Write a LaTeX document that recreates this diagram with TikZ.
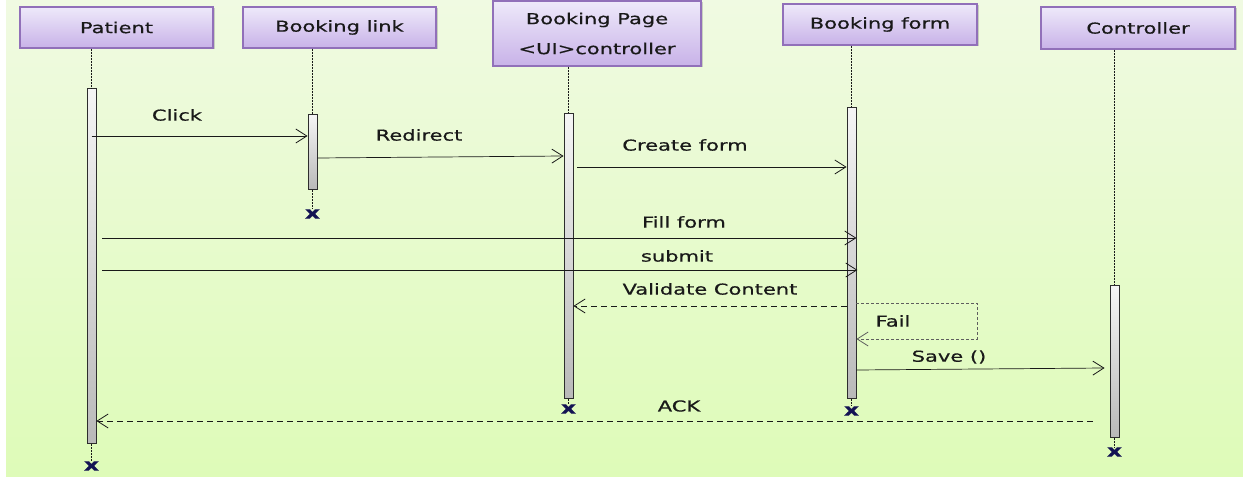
\documentclass[tikz,border=0pt]{standalone}
\usepackage{fontspec}
\setmainfont{DejaVu Sans}[FakeStretch=1.4, FakeBold=0.6]
\usetikzlibrary{arrows.meta,shadows,calc}
\definecolor{bgtop}{RGB}{240,250,226}
\definecolor{bgbot}{RGB}{222,251,184}
\definecolor{objtop}{RGB}{238,233,250}
\definecolor{objbot}{RGB}{200,178,232}
\definecolor{objline}{RGB}{145,112,185}
\definecolor{barline}{RGB}{45,45,45}
\definecolor{ink}{RGB}{25,25,25}
\begin{document}
\begin{tikzpicture}[x=1pt,y=-1pt,
  obj/.style={draw=objline, line width=1.1pt, top color=objtop, bottom color=objbot,
    minimum width=193pt, minimum height=41pt, inner sep=0pt, text=ink,
    font=\fontsize{15}{18}\selectfont,
    drop shadow={opacity=0.35, shadow xshift=1.5pt, shadow yshift=-1.5pt}},
  act/.style={draw=barline, line width=0.9pt, top color=white!92!gray, bottom color=gray!55,
    minimum width=9pt, inner sep=0pt, anchor=north},
  endmark/.style={font=\fontsize{17}{17}\selectfont\bfseries, text=ink!75!blue, inner sep=0pt},
  life/.style={draw=ink, line width=1pt, dash pattern=on 2pt off 1pt},
  msg/.style={draw=ink, line width=0.7pt, -{Straight Barb[length=11pt,width=14pt,line width=0.8pt]}},
  reply/.style={msg, dash pattern=on 6pt off 4pt},
  lbl/.style={font=\fontsize{15}{18}\selectfont, text=ink, inner sep=0pt}]

% page and background
\useasboundingbox (0,0) rectangle (1243,478);
\fill[white] (0,0) rectangle (1243,478);
\shade[top color=bgtop, bottom color=bgbot] (6,0) rectangle (1243,476);

% participants
\node[obj] (pat) at (116.5,27.5) {Patient};
\node[obj] (lnk) at (339.5,27.5) {Booking link};
\node[obj, minimum width=208pt, minimum height=65pt, align=center] (pag) at (597,33.5)
  {Booking Page\\[12pt]<UI>controller};
\node[obj, minimum width=194pt] (frm) at (880,24.5) {Booking form};
\node[obj, minimum width=194pt, minimum height=42pt] (ctl) at (1138,28) {Controller};

% activation bars
\node[act, minimum height=355pt] (pb) at (91.5,88) {};
\node[act, minimum height=75pt] (lb) at (312.5,114) {};
\node[act, minimum height=285pt] (gb) at (568.5,113) {};
\node[act, minimum height=291pt] (fb) at (851.5,107) {};
\node[act, minimum height=152pt] (cb) at (1114.5,285) {};

% destruction marks
\node[endmark] (px) at (91.5,466) {x};
\node[endmark] (lx) at (312.5,214) {x};
\node[endmark] (gx) at (568.5,409) {x};
\node[endmark] (fx) at (851.5,411) {x};
\node[endmark] (cx) at (1114.5,452) {x};

% lifelines
\foreach \o/\b/\x in {pat/pb/px, lnk/lb/lx, pag/gb/gx, frm/fb/fx, ctl/cb/cx}{
  \draw[life] (\b.north |- \o.south) -- (\b.north);
  \draw[life] (\b.south) -- (\x.north);
}

% message levels
\coordinate (yClick) at (0,136);
\coordinate (yRedirA) at (0,158);
\coordinate (yRedirB) at (0,156);
\coordinate (yCreate) at (0,167);
\coordinate (yFill) at (0,238);
\coordinate (ySubmit) at (0,270);
\coordinate (yValid) at (0,306);
\coordinate (yFailA) at (0,303);
\coordinate (yFailB) at (0,339);
\coordinate (ySaveA) at (0,370);
\coordinate (ySaveB) at (0,368);
\coordinate (yAck) at (0,421);
\coordinate (failTop) at (977,303);
\coordinate (failBot) at (977,339);

% messages
\draw[msg] (pb.center |- yClick) -- (lb.west |- yClick);
\draw[msg] (lb.east |- yRedirA) -- (gb.west |- yRedirB);
\draw[msg] ([xshift=4pt]gb.east |- yCreate) -- (fb.west |- yCreate);
\draw[msg] ([xshift=6pt]pb.east |- yFill) -- (fb.east |- yFill);
\draw[msg] ([xshift=6pt]pb.east |- ySubmit) -- ([xshift=1pt]fb.east |- ySubmit);
\draw[reply] (fb.west |- yValid) -- (gb.east |- yValid);
\draw[msg, draw=ink!70, dash pattern=on 3pt off 2pt] (fb.east |- yFailA) -- (failTop) -- (failBot) -- (fb.east |- yFailB);
\draw[msg] (fb.east |- ySaveA) -- ([xshift=-5pt]cb.west |- ySaveB);
\draw[reply] ([xshift=-17pt]cb.west |- yAck) -- (pb.east |- yAck);

% message labels
\node[lbl] (tClick) at (177,115) {Click};
\node[lbl] (tRedir) at (419,135) {Redirect};
\node[lbl] (tCreate) at (685,145) {Create form};
\node[lbl] (tFill) at (684,222) {Fill form};
\node[lbl] (tSubmit) at (677,256) {submit};
\node[lbl] (tValid) at (710,289) {Validate Content};
\node[lbl] (tFail) at (893,321) {Fail};
\node[lbl] (tSave) at (949,357) {Save ()};
\node[lbl] (tAck) at (679,406) {ACK};
\end{tikzpicture}
\end{document}
